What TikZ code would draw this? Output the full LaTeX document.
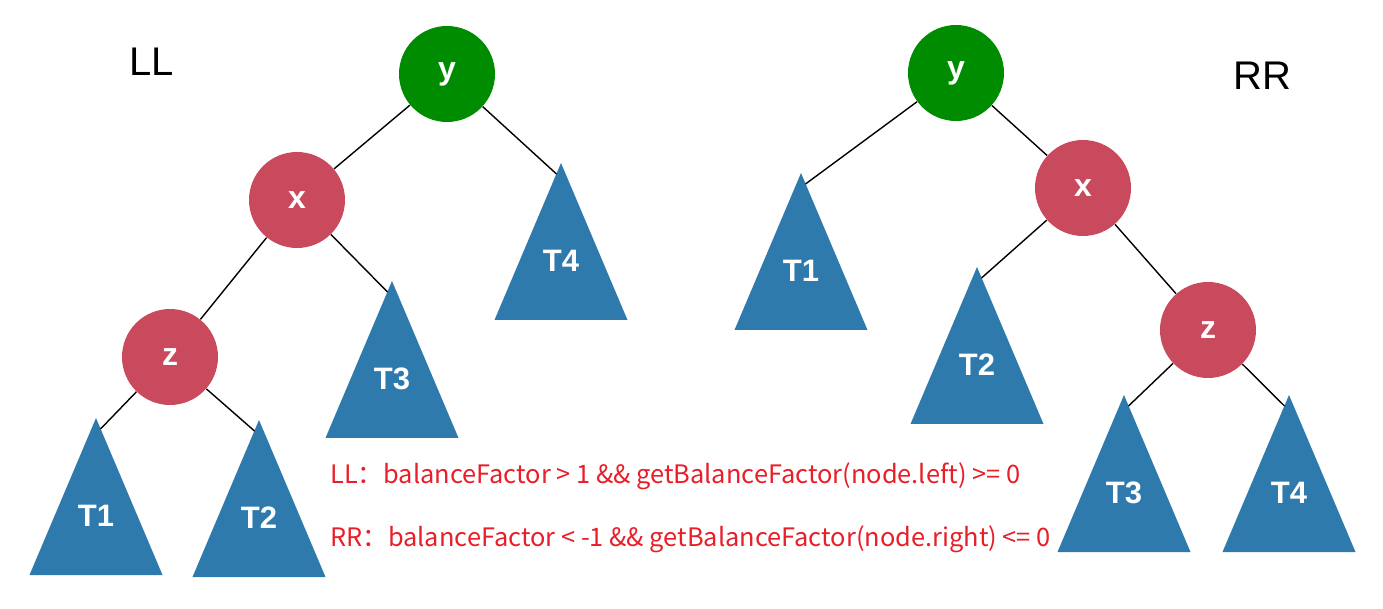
\documentclass[tikz,border=0pt]{standalone}
\usepackage{fontspec}
\setmainfont{Liberation Sans}
\newfontfamily\notefont{Noto Sans CJK SC}
\definecolor{ygreen}{RGB}{0,140,0}
\definecolor{xred}{RGB}{200,74,92}
\definecolor{tblue}{RGB}{46,122,172}
\definecolor{notered}{RGB}{232,30,40}
% subtree triangle: name, apex x, apex y, label
\newcommand\subtree[4]{%
	\fill[tblue] (#2,#3) -- ({#2-66.5},{#3+157}) -- ({#2+66.5},{#3+157}) -- cycle;
	\coordinate (#1) at (#2,#3);
	\coordinate (#1-l) at ({#2-4.5},{#3+11});
	\coordinate (#1-r) at ({#2+4.5},{#3+11});
	\node[subtreelabel] (#1-lab) at ({#2},{#3+98}) {#4};
}

\begin{document}
\begin{tikzpicture}[x=0.5pt, y=-0.5pt,
	treenode/.style={circle, minimum size=48pt, inner sep=0pt, text=white, font=\bfseries\fontsize{16}{16}\selectfont},
	subtreelabel/.style={text=white, font=\bfseries\fontsize{15.5}{16}\selectfont},
	branch/.style={line width=0.7pt},
	casename/.style={font=\fontsize{20}{20}\selectfont},
	condition/.style={anchor=base west, inner sep=0pt, text=notered, font=\notefont\fontsize{12.7}{14}\selectfont}]
	\useasboundingbox (0,0) rectangle (1383,609);
	
	\node[treenode, fill=ygreen] (yL) at (447,74) {y};
	\node[treenode, fill=xred] (xL) at (297,200) {x};
	\node[treenode, fill=xred] (zL) at (170,357) {z};
	\subtree{t1L}{96}{418}{T1}
	\subtree{t2L}{259}{420}{T2}
	\subtree{t3L}{392}{281}{T3}
	\subtree{t4L}{561}{163}{T4}
	
	\draw[branch] (yL) -- (xL);
	\draw[branch] (yL) -- (t4L-l);
	\draw[branch] (xL) -- (zL);
	\draw[branch] (xL) -- (t3L-l);
	\draw[branch] (zL) -- (t1L-r);
	\draw[branch] (zL) -- (t2L-l);
	
	\node[treenode, fill=ygreen] (yR) at (956,73) {y};
	\node[treenode, fill=xred] (xR) at (1083,188) {x};
	\node[treenode, fill=xred] (zR) at (1208,330) {z};
	\subtree{t1R}{801}{173}{T1}
	\subtree{t2R}{977}{267}{T2}
	\subtree{t3R}{1124}{395}{T3}
	\subtree{t4R}{1289}{395}{T4}
	
	\draw[branch] (yR) -- (t1R-r);
	\draw[branch] (yR) -- (xR);
	\draw[branch] (xR) -- (t2R-r);
	\draw[branch] (xR) -- (zR);
	\draw[branch] (zR) -- (t3R-r);
	\draw[branch] (zR) -- (t4R-l);
	
	\node[casename] (ll) at (152,62) {LL};
	\node[casename] (rr) at (1262,76) {RR};
	
	\node[condition] (llcond) at (330,484) {LL：balanceFactor > 1 \&\& getBalanceFactor(node.left) >= 0};
	\node[condition] (rrcond) at (330,546) {RR：balanceFactor < -1 \&\& getBalanceFactor(node.right) <= 0};
\end{tikzpicture}
\end{document}
